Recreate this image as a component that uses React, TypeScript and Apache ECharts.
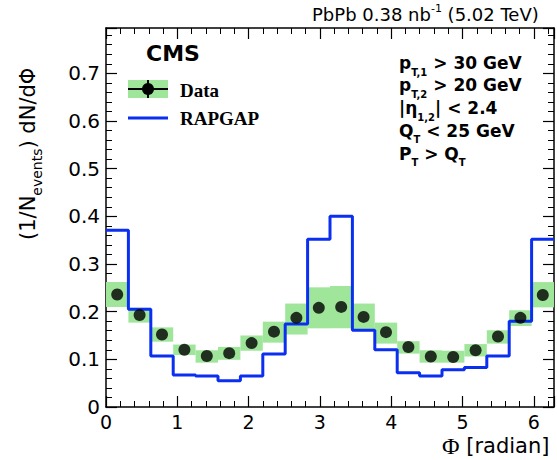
import React, { useEffect, useRef } from "react";
import * as echarts from "echarts";

// ---- data ----
const N_BINS = 20;
const X_MAX = Math.PI * 2;
const dataValues = [0.236, 0.193, 0.152, 0.120, 0.107, 0.113, 0.134, 0.158, 0.187, 0.208, 0.210, 0.189, 0.157, 0.126, 0.106, 0.105, 0.119, 0.148, 0.187, 0.235];
const sysLow = [0.210, 0.177, 0.137, 0.109, 0.093, 0.099, 0.118, 0.135, 0.152, 0.165, 0.165, 0.162, 0.133, 0.112, 0.093, 0.093, 0.106, 0.133, 0.170, 0.209];
const sysHigh = [0.262, 0.208, 0.167, 0.131, 0.119, 0.126, 0.150, 0.179, 0.217, 0.251, 0.254, 0.217, 0.177, 0.138, 0.119, 0.118, 0.132, 0.161, 0.203, 0.262];
const rapgapValues = [0.371, 0.205, 0.107, 0.067, 0.065, 0.055, 0.065, 0.111, 0.174, 0.352, 0.400, 0.161, 0.120, 0.072, 0.065, 0.078, 0.083, 0.107, 0.180, 0.352];

const SANS = "'DejaVu Sans', sans-serif";
const SERIF = "'Liberation Serif', 'Times New Roman', serif";

let measureCtx: CanvasRenderingContext2D | null = null;
function textWidth(t: string, size: number, weight: string, family: string) {
  if (!measureCtx) measureCtx = document.createElement("canvas").getContext("2d");
  measureCtx!.font = `${weight} ${size}px ${family}`;
  return measureCtx!.measureText(t).width;
}

type Piece = { t: string; s: number; w?: string; f?: string; dy?: number };
function pieceLine(x: number, y: number, pieces: Piece[], fill = "#000") {
  const out: any[] = [];
  let cx = x;
  for (const p of pieces) {
    const w = p.w || "normal";
    const f = p.f || SANS;
    out.push({
      type: "text",
      x: cx,
      y: y + (p.dy || 0),
      silent: true,
      style: { text: p.t, fontSize: p.s, fontWeight: w, fontFamily: f, fill, align: "left", verticalAlign: "middle" },
    });
    cx += textWidth(p.t, p.s, w, f);
  }
  return out;
}

export default function App() {
  const ref = useRef<HTMLDivElement>(null);
  useEffect(() => {
    if (!ref.current) return;
    const chart = echarts.init(ref.current, null, { renderer: "svg" });
    const bw = X_MAX / N_BINS;
    const boxes = dataValues.map((_, i) => [i * bw, (i + 1) * bw, sysLow[i], sysHigh[i]]);
    const points = dataValues.map((v, i) => [(i + 0.5) * bw, v]);
    const steps = rapgapValues.map((v, i) => [i * bw, v]);
    steps.push([X_MAX, rapgapValues[rapgapValues.length - 1]]);

    const axisCommon = {
      type: "value",
      splitLine: { show: false },
      axisLine: { show: true, onZero: false, lineStyle: { color: "#000", width: 1.5 } },
      axisTick: { show: true, inside: true, length: 11, lineStyle: { color: "#000", width: 1.2 } },
      minorTick: { show: true, splitNumber: 5, length: 6, lineStyle: { color: "#000", width: 1 } },
      minorSplitLine: { show: false },
    };
    const xFmt = (v: number) => (Math.abs(v - Math.round(v)) < 1e-6 ? String(Math.round(v)) : "");
    const yFmt = (v: number) => {
      const r = Math.round(v * 10);
      if (Math.abs(v * 10 - r) > 1e-6) return "";
      return r === 0 ? "0" : (r / 10).toFixed(1);
    };
    const labelStyle = { color: "#000", fontSize: 19, fontFamily: SANS };

    const graphic: any[] = [];
    // top-right title
    graphic.push(
      ...pieceLine(312, 14, [
        { t: "PbPb 0.38 nb", s: 18 },
        { t: "-1", s: 11, dy: -6 },
        { t: " (5.02 TeV)", s: 18 },
      ])
    );
    // CMS
    graphic.push(...pieceLine(146, 53, [{ t: "CMS", s: 22, w: "bold" }]));
    // legend
    graphic.push(
      { type: "rect", shape: { x: 128, y: 80, width: 40, height: 18 }, style: { fill: "#9fe69a" }, silent: true },
      { type: "line", shape: { x1: 128, y1: 89, x2: 168, y2: 89 }, style: { stroke: "#000", lineWidth: 2 }, silent: true },
      { type: "line", shape: { x1: 148, y1: 80, x2: 148, y2: 98 }, style: { stroke: "#000", lineWidth: 2 }, silent: true },
      { type: "circle", shape: { cx: 148, cy: 89, r: 6 }, style: { fill: "#000" }, silent: true },
      { type: "line", shape: { x1: 128, y1: 118, x2: 168, y2: 118 }, style: { stroke: "#0a2ff0", lineWidth: 3 }, silent: true }
    );
    graphic.push(...pieceLine(180, 90, [{ t: "Data", s: 19, w: "bold", f: SERIF }]));
    graphic.push(...pieceLine(180, 118, [{ t: "RAPGAP", s: 19, w: "bold", f: SERIF }]));
    // selection texts
    const B = "bold";
    graphic.push(...pieceLine(399, 63, [{ t: "p", s: 17, w: B }, { t: "T,1", s: 10, w: B, dy: 9 }, { t: " > 30 GeV", s: 17, w: B }]));
    graphic.push(...pieceLine(399, 85, [{ t: "p", s: 17, w: B }, { t: "T,2", s: 10, w: B, dy: 9 }, { t: " > 20 GeV", s: 17, w: B }]));
    graphic.push(...pieceLine(399, 108, [{ t: "|η", s: 17, w: B }, { t: "1,2", s: 10, w: B, dy: 9 }, { t: "| < 2.4", s: 17, w: B }]));
    graphic.push(...pieceLine(399, 131, [{ t: "Q", s: 17, w: B }, { t: "T", s: 10, w: B, dy: 8 }, { t: " < 25 GeV", s: 17, w: B }]));
    graphic.push(...pieceLine(399, 154, [{ t: "P", s: 17, w: B }, { t: "T", s: 10, w: B, dy: 8 }, { t: " > Q", s: 17, w: B }, { t: "T", s: 10, w: B, dy: 8 }]));
    // x title
    graphic.push(...pieceLine(442, 446, [{ t: "Φ", s: 24, f: SERIF }, { t: " [radian]", s: 21 }]));
    // y title (rotated)
    graphic.push({
      type: "group",
      x: 28,
      y: 240,
      rotation: Math.PI / 2,
      children: pieceLine(0, 0, [
        { t: "(1/N", s: 21 },
        { t: "events", s: 14, dy: 9 },
        { t: ") dN/dΦ", s: 21 },
      ]),
    });

    chart.setOption({
      animation: false,
      backgroundColor: "#fff",
      grid: { left: 106, top: 28, width: 450, height: 379, containLabel: false },
      xAxis: [
        { ...axisCommon, min: 0, max: X_MAX, interval: 1, position: "bottom", axisLabel: { ...labelStyle, margin: 5, formatter: xFmt } },
        { ...axisCommon, min: 0, max: X_MAX, interval: 1, position: "top", axisLabel: { show: false } },
      ],
      yAxis: [
        { ...axisCommon, min: 0, max: 0.795, interval: 0.1, position: "left", axisLabel: { ...labelStyle, fontSize: 20, margin: 6, formatter: yFmt } },
        { ...axisCommon, min: 0, max: 0.795, interval: 0.1, position: "right", axisLabel: { show: false } },
      ],
      series: [
        {
          type: "custom",
          name: "Data syst",
          xAxisIndex: 0,
          yAxisIndex: 0,
          z: 1,
          data: boxes,
          renderItem: (params: any, api: any) => {
            const p1 = api.coord([api.value(0), api.value(3)]);
            const p2 = api.coord([api.value(1), api.value(2)]);
            return {
              type: "rect",
              shape: { x: p1[0], y: p1[1], width: p2[0] - p1[0], height: p2[1] - p1[1] },
              style: { fill: "#9fe69a" },
            };
          },
        },
        {
          type: "line",
          name: "RAPGAP",
          step: "end",
          z: 2,
          data: steps,
          symbol: "none",
          lineStyle: { color: "#0a2ff0", width: 3 },
        },
        {
          type: "scatter",
          name: "Data",
          z: 3,
          data: points,
          symbol: "circle",
          symbolSize: 12,
          itemStyle: { color: "#000" },
        },
      ],
      graphic,
    });
    return () => chart.dispose();
  }, []);
  return <div ref={ref} style={{ position: "absolute", left: 0, top: 0, width: 557, height: 460 }} />;
}
